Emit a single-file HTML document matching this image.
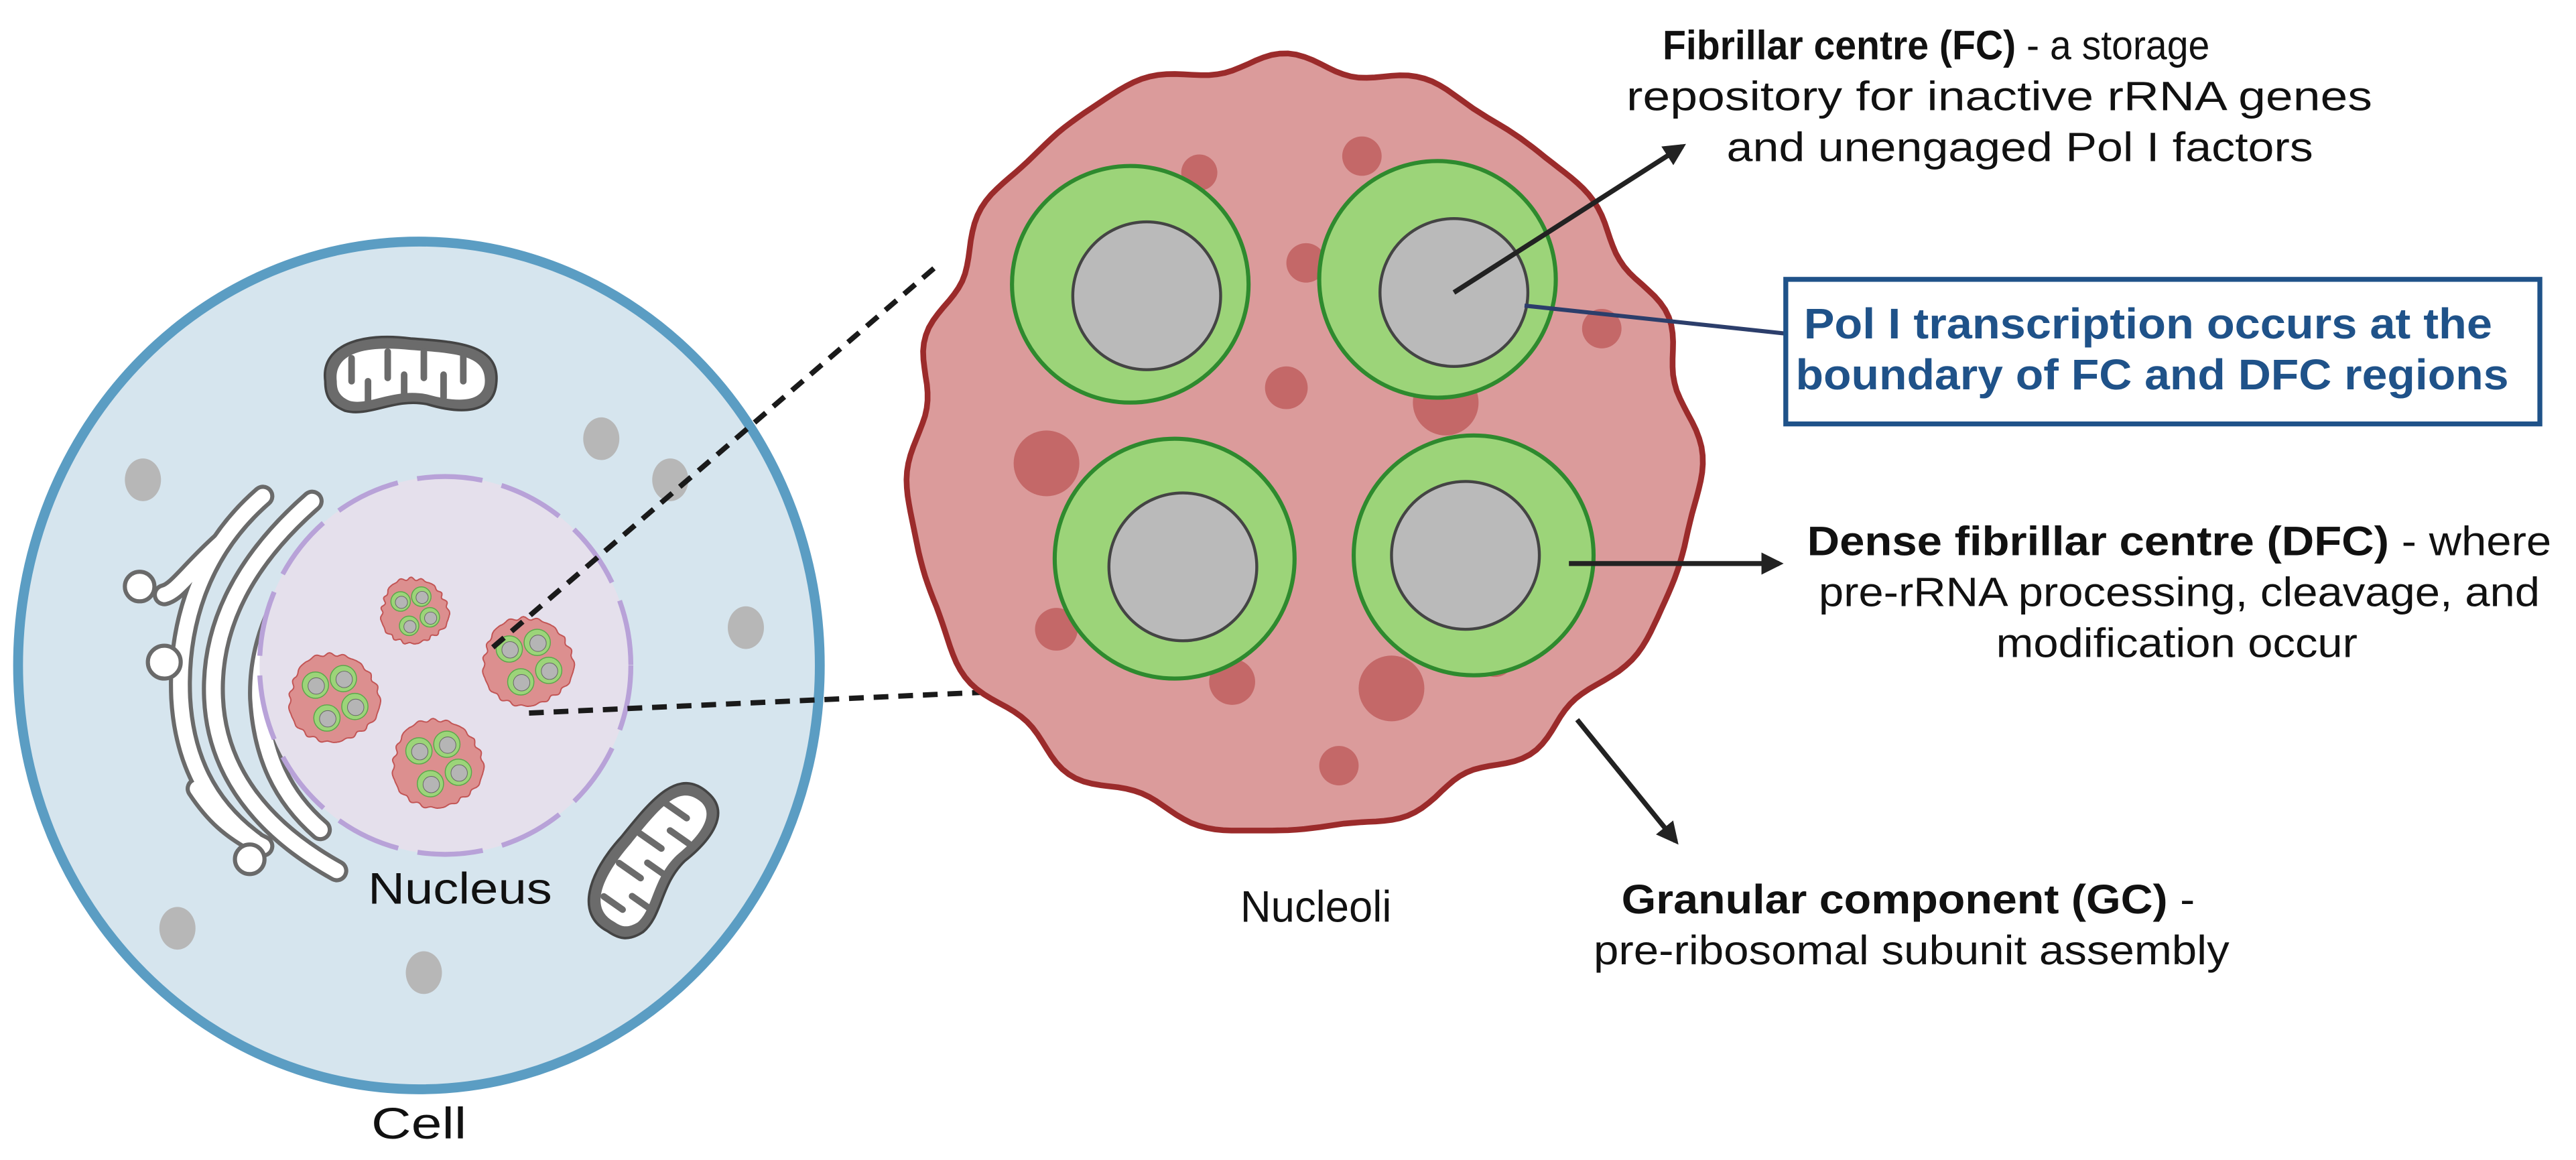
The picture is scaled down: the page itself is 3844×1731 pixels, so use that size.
<!DOCTYPE html>
<html><head><meta charset="utf-8"><style>html,body{margin:0;padding:0;background:#fff}svg{display:block}</style></head>
<body>
<svg id="s" width="3844" height="1731" viewBox="0 0 1568 706" xmlns="http://www.w3.org/2000/svg" font-family="Liberation Sans, Arial, sans-serif">
<ellipse cx="255" cy="405" rx="244" ry="258" fill="#d6e5ee" stroke="#5b9dc3" stroke-width="6"/>
<g fill="#b7b7b7">
<ellipse cx="87" cy="292" rx="11" ry="13"/><ellipse cx="366" cy="267" rx="11" ry="13"/>
<ellipse cx="408" cy="292" rx="11" ry="13"/><ellipse cx="454" cy="382" rx="11" ry="13"/>
<ellipse cx="108" cy="565" rx="11" ry="13"/><ellipse cx="258" cy="592" rx="11" ry="13"/>
</g>
<!-- ER -->
<g fill="none" stroke-linecap="round">
<g stroke="#6a6a6a" stroke-width="14">
<path d="M190,305 C150,340 128,380 130,425 C132,470 160,505 205,530"/>
<path d="M160,302 C122,335 108,380 110,425 C112,460 125,490 155,512"/>
<path d="M135,330 C115,348 108,360 100,362"/>
<path d="M205,325 C172,355 157,390 158,425 C160,460 172,485 195,505"/>
<path d="M120,480 C130,495 140,505 160,515"/>
</g>
<g stroke="#ffffff" stroke-width="9">
<path d="M190,305 C150,340 128,380 130,425 C132,470 160,505 205,530"/>
<path d="M160,302 C122,335 108,380 110,425 C112,460 125,490 155,512"/>
<path d="M135,330 C115,348 108,360 100,362"/>
<path d="M205,325 C172,355 157,390 158,425 C160,460 172,485 195,505"/>
<path d="M120,480 C130,495 140,505 160,515"/>
</g>
</g>
<g fill="#fff" stroke="#6a6a6a" stroke-width="2.5">
<circle cx="85" cy="357" r="9"/><circle cx="100" cy="403" r="10"/><circle cx="152" cy="523" r="9"/>
</g>
<ellipse cx="271" cy="405" rx="113" ry="115" fill="#e5e0ec" stroke="#b8a2d8" stroke-width="3" stroke-dasharray="40 12"/>
<g id="small"></g>
<!-- mitochondria -->
<g transform="translate(250,230)">
<path d="M-52,2 C-55,-20 -30,-28 0,-24 C30,-22 55,-20 52,4 C50,22 30,22 10,16 C-10,12 -25,24 -40,20 C-50,16 -52,10 -52,2 Z" fill="#6b6b6b" stroke="#444" stroke-width="1.5"/>
<path d="M-45,2 C-47,-15 -28,-20 0,-17 C28,-15 47,-14 45,4 C43,15 28,15 10,10 C-10,6 -25,17 -37,14 C-44,11 -45,7 -45,2 Z" fill="#fff"/>
<g stroke="#6b6b6b" stroke-width="4" stroke-linecap="round">
<line x1="-36" y1="-12" x2="-36" y2="2"/><line x1="-26" y1="16" x2="-26" y2="2"/><line x1="-14" y1="-16" x2="-14" y2="0"/><line x1="-4" y1="10" x2="-4" y2="-2"/><line x1="8" y1="-16" x2="8" y2="0"/><line x1="20" y1="12" x2="20" y2="-2"/><line x1="32" y1="-14" x2="32" y2="2"/>
</g></g>
<g transform="translate(398,523) rotate(-55)">
<path d="M-52,2 C-55,-20 -30,-28 0,-24 C30,-22 55,-20 52,4 C50,22 30,22 10,16 C-10,12 -25,24 -40,20 C-50,16 -52,10 -52,2 Z" fill="#6b6b6b" stroke="#444" stroke-width="1.5"/>
<path d="M-45,2 C-47,-15 -28,-20 0,-17 C28,-15 47,-14 45,4 C43,15 28,15 10,10 C-10,6 -25,17 -37,14 C-44,11 -45,7 -45,2 Z" fill="#fff"/>
<g stroke="#6b6b6b" stroke-width="4" stroke-linecap="round">
<line x1="-36" y1="-12" x2="-36" y2="2"/><line x1="-26" y1="16" x2="-26" y2="2"/><line x1="-14" y1="-16" x2="-14" y2="0"/><line x1="-4" y1="10" x2="-4" y2="-2"/><line x1="8" y1="-16" x2="8" y2="0"/><line x1="20" y1="12" x2="20" y2="-2"/><line x1="32" y1="-14" x2="32" y2="2"/>
</g></g>
<g stroke="#1a1a1a" stroke-width="3.2" stroke-dasharray="9 6" fill="none">
<line x1="300" y1="394" x2="570" y2="162"/>
<line x1="322" y1="434" x2="628" y2="420"/>
</g>
<path id="blob" fill="#db9b9b" stroke="#9b2b2b" stroke-width="3.5"/>
<g fill="#c46868">
<circle cx="730" cy="105" r="11"/><circle cx="829" cy="95" r="12"/><circle cx="795" cy="160" r="12"/>
<circle cx="783" cy="236" r="13"/><circle cx="637" cy="282" r="20"/><circle cx="880" cy="245" r="20"/>
<circle cx="975" cy="200" r="12"/><circle cx="643" cy="383" r="13"/><circle cx="750" cy="415" r="14"/>
<circle cx="847" cy="419" r="20"/><circle cx="815" cy="466" r="12"/><circle cx="910" cy="400" r="12"/>
</g>
<g stroke-width="2.5">
<circle cx="688" cy="173" r="72" fill="#9cd479" stroke="#2e8a2e"/>
<circle cx="698" cy="180" r="45" fill="#bababa" stroke="#444" stroke-width="1.8"/>
<circle cx="875" cy="170" r="72" fill="#9cd479" stroke="#2e8a2e"/>
<circle cx="885" cy="178" r="45" fill="#bababa" stroke="#444" stroke-width="1.8"/>
<circle cx="715" cy="340" r="73" fill="#9cd479" stroke="#2e8a2e"/>
<circle cx="720" cy="345" r="45" fill="#bababa" stroke="#444" stroke-width="1.8"/>
<circle cx="897" cy="338" r="73" fill="#9cd479" stroke="#2e8a2e"/>
<circle cx="892" cy="338" r="45" fill="#bababa" stroke="#444" stroke-width="1.8"/>
</g>
<defs><marker id="ah" viewBox="0 0 10 10" refX="8" refY="5" markerWidth="4.5" markerHeight="4.5" orient="auto"><path d="M0,0 L10,5 L0,10 Z" fill="#222"/></marker></defs>
<g stroke="#222" stroke-width="3" fill="none">
<line x1="885" y1="178" x2="1024" y2="89" marker-end="url(#ah)"/>
<line x1="955" y1="343" x2="1083" y2="343" marker-end="url(#ah)"/>
<line x1="960" y1="438" x2="1020" y2="512" marker-end="url(#ah)"/>
</g>
<line x1="928" y1="186" x2="1087" y2="203" stroke="#2c3e6b" stroke-width="2.5"/>
<rect x="1087" y="170" width="459" height="88" fill="#fff" stroke="#1f5289" stroke-width="3"/>
<g font-size="25" fill="#111">
<text x="1012" y="36" textLength="333" lengthAdjust="spacingAndGlyphs"><tspan font-weight="bold">Fibrillar centre (FC)</tspan> - a storage</text>
<text x="990" y="67" textLength="454" lengthAdjust="spacingAndGlyphs">repository for inactive rRNA genes</text>
<text x="1051" y="98" textLength="357" lengthAdjust="spacingAndGlyphs">and unengaged Pol I factors</text>
<text x="1100" y="338" textLength="453" lengthAdjust="spacingAndGlyphs"><tspan font-weight="bold">Dense fibrillar centre (DFC)</tspan> - where</text>
<text x="1107" y="369" textLength="439" lengthAdjust="spacingAndGlyphs">pre-rRNA processing, cleavage, and</text>
<text x="1215" y="400" textLength="220" lengthAdjust="spacingAndGlyphs">modification occur</text>
<text x="987" y="556" textLength="349" lengthAdjust="spacingAndGlyphs"><tspan font-weight="bold">Granular component (GC)</tspan> -</text>
<text x="970" y="587" textLength="387" lengthAdjust="spacingAndGlyphs">pre-ribosomal subunit assembly</text>
</g>
<g font-size="26" font-weight="bold" fill="#1f5289">
<text x="1098" y="206" textLength="419" lengthAdjust="spacingAndGlyphs">Pol I transcription occurs at the</text>
<text x="1093" y="237" textLength="434" lengthAdjust="spacingAndGlyphs">boundary of FC and DFC regions</text>
</g>
<g font-size="27" fill="#111" text-anchor="middle">
<text x="280" y="550" textLength="112" lengthAdjust="spacingAndGlyphs">Nucleus</text>
<text x="801" y="561" textLength="92" lengthAdjust="spacingAndGlyphs">Nucleoli</text>
<text x="255" y="693" textLength="58" lengthAdjust="spacingAndGlyphs">Cell</text>
</g>
</svg>
<script>
(function(){
var NS="http://www.w3.org/2000/svg";
function blob(cx,cy,r,n,amp,ph,irr){var d="";var N=300;for(var i=0;i<=N;i++){var a=i/N*2*Math.PI;var rr=r+amp*Math.sin(n*a+ph)+amp*0.6*Math.sin((n+5)*a+2)+irr*Math.sin(3*a+1)+irr*0.6*Math.sin(5*a+0.3)+irr*0.4*Math.cos(2*a);var x=cx+rr*Math.cos(a),y=cy+rr*Math.sin(a);d+=(i?"L":"M")+x.toFixed(1)+","+y.toFixed(1);}return d+"Z";}
document.getElementById("blob").setAttribute("d",blob(789,272,236,15,3.5,0.5,5));
var g=document.getElementById("small");
var nl=[[252,372,20],[203,425,27],[321,403,27],[266,465,27]];
nl.forEach(function(n){
 var p=document.createElementNS(NS,"path");p.setAttribute("d",blob(n[0],n[1],n[2],18,0.6,0,0.8));p.setAttribute("fill","#dc8f8f");p.setAttribute("stroke","#c25555");p.setAttribute("stroke-width","0.8");g.appendChild(p);
 var s=n[2]/27;
 [[-11,-8],[6,-12],[13,5],[-4,12]].forEach(function(o){
  var c=document.createElementNS(NS,"circle");c.setAttribute("cx",n[0]+o[0]*s);c.setAttribute("cy",n[1]+o[1]*s);c.setAttribute("r",8*s);c.setAttribute("fill","#9cd479");c.setAttribute("stroke","#5aa84a");c.setAttribute("stroke-width","0.6");g.appendChild(c);
  var c2=document.createElementNS(NS,"circle");c2.setAttribute("cx",n[0]+o[0]*s+0.5);c2.setAttribute("cy",n[1]+o[1]*s+0.5);c2.setAttribute("r",5*s);c2.setAttribute("fill","#b5b5b5");c2.setAttribute("stroke","#666");c2.setAttribute("stroke-width","0.4");g.appendChild(c2);
 });
});
})();
</script>
</body></html>
